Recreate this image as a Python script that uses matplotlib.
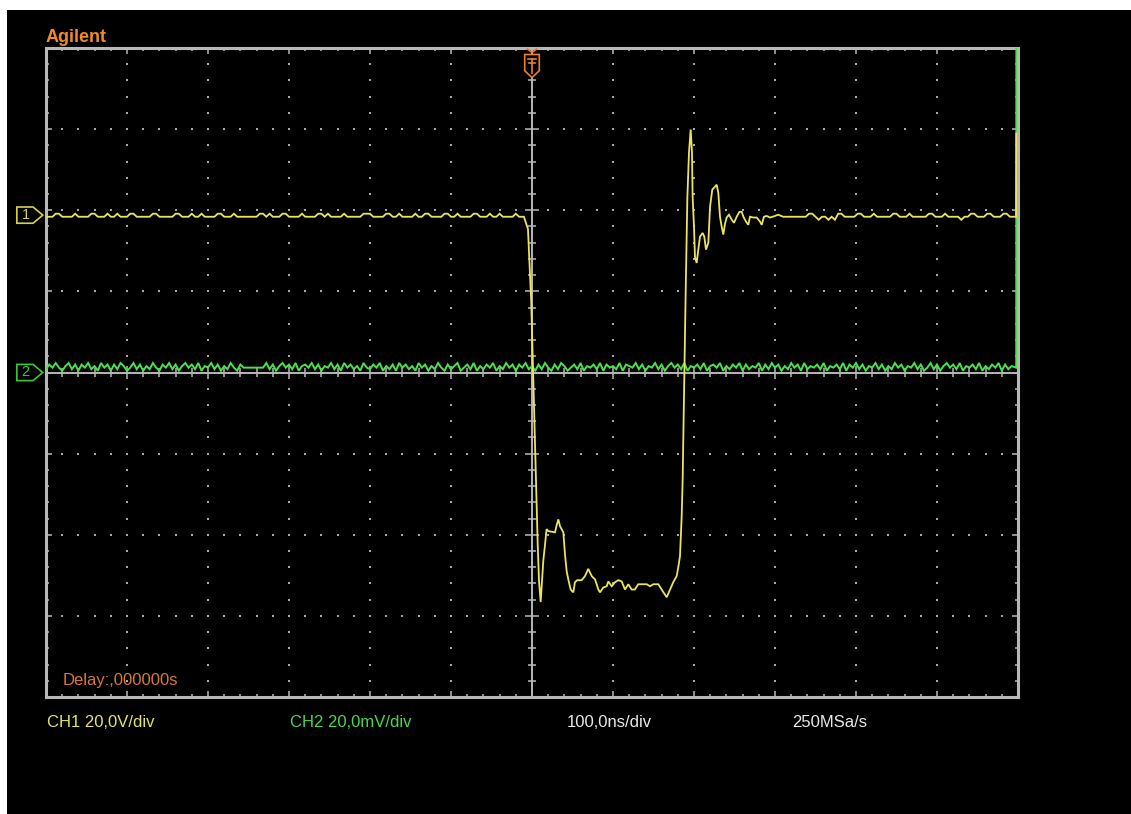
import numpy as np
import matplotlib.pyplot as plt
from matplotlib.patches import Rectangle, Polygon
from matplotlib.ticker import MultipleLocator

W, H = 1131, 814

# scope settings
NS_PER_DIV = 100.0
CH1_V_PER_DIV = 20.0
CH2_MV_PER_DIV = 20.0
CH1_OFFSET = 1.92   # divisions above centre
CH2_OFFSET = 0.0

# CH1 baseline before the edge, one digit per 4 ns sample (1 = baseline, 2 = small bump)
ch1_pre_levels = ("1112211112" "1111221112" "1121112211" "1112211111" "2211121121"
                  "1112211121" "1111112212" "1112211112" "1111221211" "1121111122"
                  "2111122112" "1111211221" "1112211211" "1122111211" "2111121")
ch1_pre_start = -600
ch1_step_v = 0.75

# CH1 pulse (ns, V)
ch1_edge_t = [-10, -5, -1, 5, 7, 8.6, 10.7, 12, 14, 16, 18, 20, 28.4, 30.5, 32.5, 34.6,
              38.7, 40.7, 42.8, 44.8, 47.7, 51, 53, 55.9, 61.3, 65.4, 69.5, 73.7, 77.8,
              81.9, 84, 88, 92.2, 94.2, 98.4, 102.5, 106.5, 110.7, 114.8, 118.9, 123, 127,
              131.2, 141.6, 145.7, 149.8, 156, 160, 166.3, 170.4, 174.4, 178.6, 180.6,
              182.7, 184.8, 186, 190, 191.8, 193.8, 195.9, 197.5, 198.3, 200, 201.2,
              203.3, 205.3, 207.4, 210.7, 212.7, 214.8, 217.7, 219.8, 222.6, 225.9, 228,
              230, 232.1, 234.2, 236.2, 238.3, 240.3, 243.2, 246.5, 249.4, 252.7, 256,
              258.9, 261, 264.2, 267.1, 269.1, 273.2, 277.4, 281.5, 283.6, 286.4, 289.7,
              293.8, 300, 304]
ch1_edge_v = [0, -3, -20.7, -65, -80.5, -89.6, -95, -90.9, -84.7, -81, -77, -77.5, -77.8,
              -76, -74.6, -76.3, -77.8, -83.2, -87.4, -89.4, -91.9, -92.6, -90.1, -89.6,
              -89.6, -88.6, -86.8, -88.6, -89.4, -91.9, -92.6, -91.4, -91.1, -89.9, -91.1,
              -90.1, -89.6, -89.9, -91.9, -90.6, -91.9, -91.9, -90.6, -90.6, -91.1, -90.6,
              -90.6, -91.9, -93.8, -91.9, -90.1, -88.6, -86.4, -83.7, -73.8, -64.7, -15.3,
              4.7, 15.8, 21.5, 16, 4.9, -2.5, -9.9, -11.4, -8.1, -4.9, -4, -4.9, -8.1,
              -6.4, 2.5, 6.7, 7.4, 7.9, 5.9, 0, -2.5, -4.4, -1.7, -0.2, 0.5, -0.7, -1.5, 0,
              1.2, 1.2, 0, -1.2, -2, 0, -0.2, -0.2, -1.2, -2, 0, 0.2, -0.2, 0.2, 0.5]

# CH1 baseline after the ringing (0 = small dip, 1 = baseline, 2 = small bump)
ch1_post_levels = ("1111111122" "1011010221" "1112211121" "1111221112" "1111122111"
                   "2111101122" "1112211122" "11")
ch1_post_start = 310
ch1_end_t = [597.6, 597.9]
ch1_end_v = [0, 20.5]

# CH2 noise, one digit per 4 ns sample
ch2_levels = ("25363146251536241635152641362514263153625146352614"
              "36251426315333333362514635261453625143625163524163"
              "25361425163524163514263152461352614253614263515362"
              "41526315264135261435261534261543625143625146352614"
              "35261453614253615243615263514263516243526143526153"
              "62514362514263514362513625146352614352614253615246")
ch2_start = -600
ch2_mean_mv = 1.2
ch2_step_mv = 0.38
ch2_end_t = [597.8, 598.0]
ch2_end_mv = [1.2, 90]

bottom_labels = ["CH1 20,0V/div", "CH2 20,0mV/div", "100,0ns/div", "250MSa/s"]
bottom_x = [47, 290, 567, 792]
bottom_colors = ["#e6e264", "#48d848", "#e8e8e8", "#e8e8e8"]

# build traces
pre_v = (np.array([int(c) for c in ch1_pre_levels]) - 1) * ch1_step_v
pre_t = ch1_pre_start + 4 * np.arange(len(pre_v))
post_v = (np.array([int(c) for c in ch1_post_levels]) - 1) * ch1_step_v
post_t = ch1_post_start + 4 * np.arange(len(post_v))
ch1_t = np.concatenate([pre_t, ch1_edge_t, post_t, ch1_end_t])
ch1_v = np.concatenate([pre_v, ch1_edge_v, post_v, ch1_end_v])

ch2_mv = ch2_mean_mv + (np.array([int(c) for c in ch2_levels]) - 3) * ch2_step_mv
ch2_t = ch2_start + 4 * np.arange(len(ch2_mv))
ch2_t = np.concatenate([ch2_t[:-1], ch2_end_t])
ch2_mv = np.concatenate([ch2_mv[:-1], ch2_end_mv])

plt.rcParams['font.family'] = ['Liberation Sans', 'DejaVu Sans']

fig = plt.figure(figsize=(W / 100, H / 100), dpi=100, facecolor='white')
fig.patches.append(Rectangle((7 / W, 0), 1, 1 - 10 / H, transform=fig.transFigure,
                             facecolor='black', edgecolor='none', zorder=-10))

ax = fig.add_axes([46 / W, 1 - 697 / H, 972 / W, 649 / H])
ax.set_zorder(2)
ax.set_facecolor('black')
ax.set_xlim(-6, 6)
ax.set_ylim(-4, 4)

frame = '#b8b8b8'
for s in ax.spines.values():
    s.set_color(frame)
    s.set_linewidth(2.2)
ax.xaxis.set_major_locator(MultipleLocator(1))
ax.yaxis.set_major_locator(MultipleLocator(1))
ax.xaxis.set_minor_locator(MultipleLocator(0.2))
ax.yaxis.set_minor_locator(MultipleLocator(0.2))
ax.tick_params(which='both', direction='in', top=True, right=True, bottom=True, left=True,
               labelbottom=False, labelleft=False, color=frame, width=1.1)
ax.tick_params(which='major', length=4.5)
ax.tick_params(which='minor', length=2.3)

# dotted graticule
fine = np.arange(-30, 31) * 0.2
for d in [-5, -4, -3, -2, -1, 1, 2, 3, 4, 5]:
    ax.plot(np.full(41, d), fine[10:51], ls='none', marker='s', ms=1.6, mew=0, color='#a8a8a8')
for d in [-3, -2, -1, 1, 2, 3]:
    ax.plot(fine, np.full(61, d), ls='none', marker='s', ms=1.6, mew=0, color='#a8a8a8')

# centre cross with ticks
ax.axvline(0, color=frame, lw=1.4)
ax.axhline(0, color=frame, lw=1.4)
ys = fine[10:51]
major_y = np.isclose(ys, np.round(ys))
ax.hlines(ys[~major_y], -0.05, 0.05, color=frame, lw=1.1)
ax.hlines(ys[major_y], -0.085, 0.085, color=frame, lw=1.1)
xs = fine
major_x = np.isclose(xs, np.round(xs))
ax.vlines(xs[~major_x], -0.05, 0.05, color=frame, lw=1.1)
ax.vlines(xs[major_x], -0.085, 0.085, color=frame, lw=1.1)

# traces
ax.plot(ch2_t / NS_PER_DIV, CH2_OFFSET + ch2_mv / CH2_MV_PER_DIV, color='#4ae24a', lw=1.4,
        solid_joinstyle='miter', zorder=5)
ax.plot(ch1_t / NS_PER_DIV, CH1_OFFSET + ch1_v / CH1_V_PER_DIV, color='#ece45c', lw=1.3,
        solid_joinstyle='miter', zorder=6)

# trigger marker
orange = '#e8802c'
ax.add_patch(Polygon([(-0.09, 3.92), (0.09, 3.92), (0.09, 3.72), (0, 3.635), (-0.09, 3.72)],
                     closed=True, facecolor='black', edgecolor=orange, lw=1.2,
                     clip_on=False, zorder=8))
ax.plot([-0.06, 0, 0.06], [3.99, 3.945, 3.99], color=orange, lw=1.2, clip_on=False, zorder=8)
ax.plot([-0.05, 0.05], [3.86, 3.86], color=orange, lw=1.2, clip_on=False, zorder=9)
ax.plot([-0.04, 0.04], [3.81, 3.81], color=orange, lw=1.2, clip_on=False, zorder=9)
ax.plot([0, 0], [3.86, 3.69], color=orange, lw=1.2, clip_on=False, zorder=9)

# channel markers
for lvl, txt, col in [(CH1_OFFSET + 0.02, '1', '#d8d050'), (CH2_OFFSET, '2', '#38c838')]:
    ax.add_patch(Polygon([(-6.36, lvl + 0.1), (-6.16, lvl + 0.1), (-6.04, lvl),
                          (-6.16, lvl - 0.1), (-6.36, lvl - 0.1)], closed=True,
                         facecolor='black', edgecolor=col, lw=1.2, clip_on=False, zorder=8))
    ax.text(-6.25, lvl, txt, color=col, fontsize=10.5, ha='center', va='center',
            clip_on=False, zorder=9)


def fpos(x, y):
    return x / W, 1 - y / H


fig.text(*fpos(46, 42), 'Agilent', color='#f08c28', fontsize=13, fontweight='bold',
         va='baseline', ha='left')
fig.text(*fpos(63, 685), 'Delay:,000000s', color='#d8783a', fontsize=12,
         va='baseline', ha='left', zorder=5)
for lab, x, c in zip(bottom_labels, bottom_x, bottom_colors):
    fig.text(*fpos(x, 727), lab, color=c, fontsize=12, va='baseline', ha='left')

fig.savefig('out.png', dpi=100, facecolor='white')
